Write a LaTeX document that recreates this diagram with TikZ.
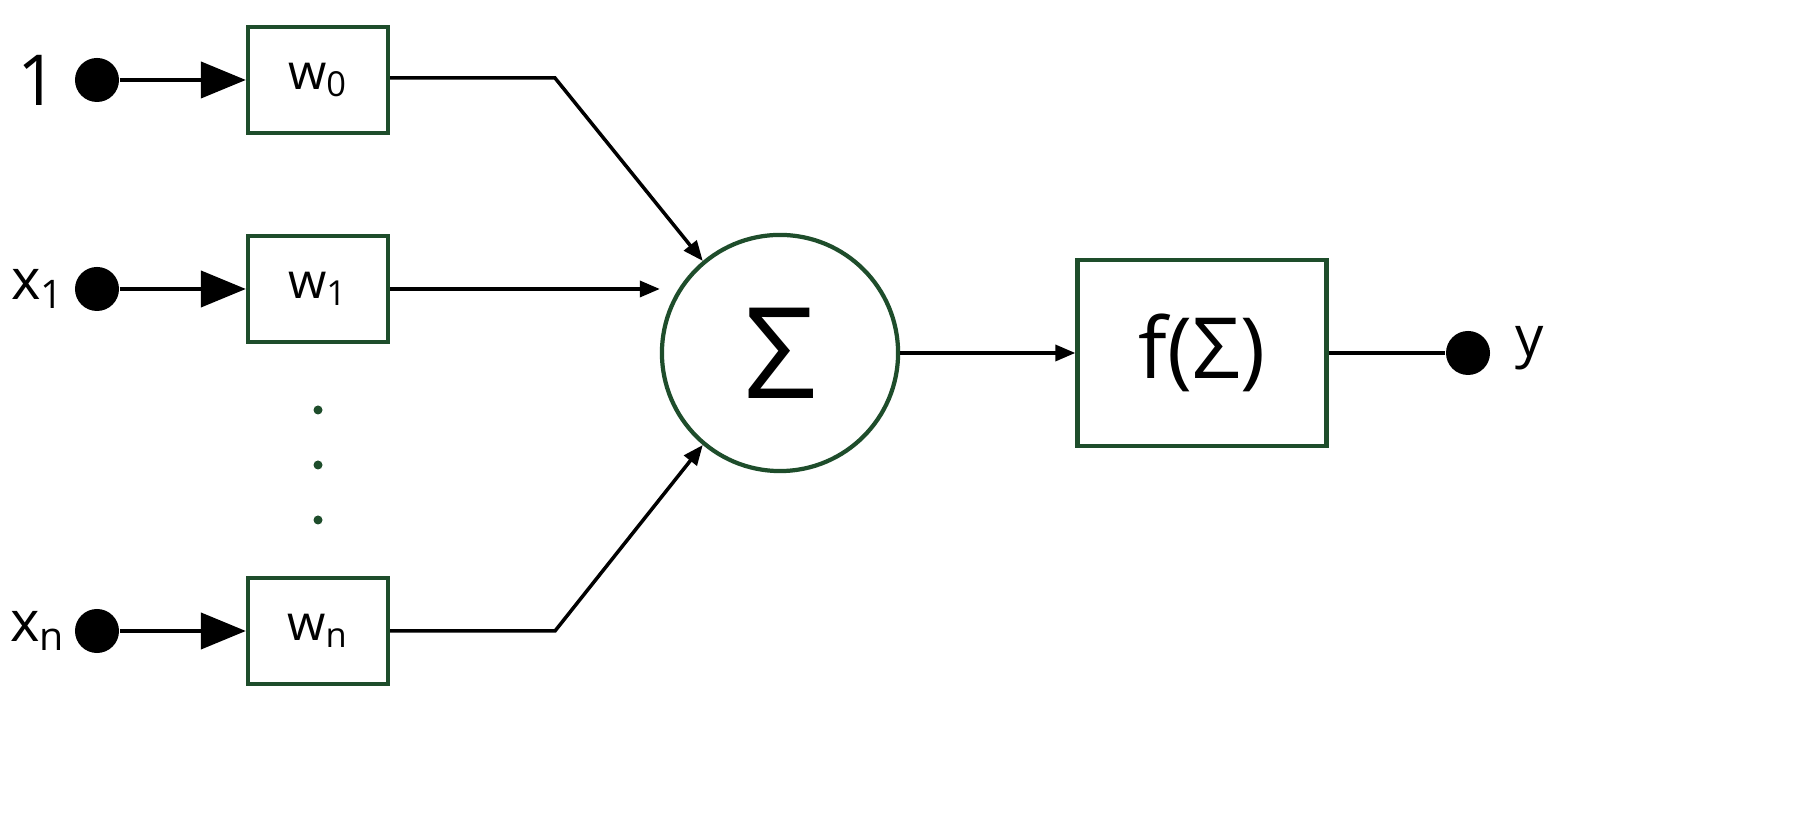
\documentclass[tikz,border=0pt]{standalone}
\usepackage{fontspec}
\setmainfont{Open Sans}
\usetikzlibrary{arrows.meta}
\definecolor{dg}{HTML}{1E4D2B}
\begin{document}
\begin{tikzpicture}[x=0.01cm,y=0.01cm,
  box/.style={draw=dg,line width=1.2pt,minimum width=1.4cm,minimum height=1.06cm,inner sep=0pt,font=\fontsize{14}{16}\selectfont},
  dot/.style={circle,fill=black,minimum size=0.44cm,inner sep=0pt},
  lab/.style={font=\fontsize{16}{18}\selectfont},
  big/.style={-{Triangle[length=0.45cm,width=0.36cm]},line width=1.2pt},
  sm/.style={-{Triangle[length=0.2cm,width=0.16cm]},line width=1pt}]
\path[use as bounding box,fill=white] (0,0) rectangle (1813,819);
\node[lab] (l0) at (38,739) {\fontsize{20}{22}\selectfont 1};
\node[lab] (l1) at (38,530) {x\textsubscript{1}};
\node[lab] (ln) at (38,188) {x\textsubscript{n}};
\node[dot] (d0) at (97,739) {};
\node[dot] (d1) at (97,530) {};
\node[dot] (dn) at (97,188) {};
\node[box] (w0) at (318,739) {w\textsubscript{0}};
\node[box] (w1) at (318,530) {w\textsubscript{1}};
\node[box] (wn) at (318,188) {w\textsubscript{n}};
\foreach \yy in {409,354,299} \fill[dg] (318,\yy) circle (0.045cm);
\node[circle,draw=dg,line width=1.2pt,minimum size=2.36cm,inner sep=0pt,font=\fontsize{36}{40}\selectfont] (s) at (780,466) {Σ};
\node[box,minimum width=2.49cm,minimum height=1.86cm,font=\fontsize{24}{28}\selectfont] (f) at (1202,466) {f(Σ)};
\node[dot] (dy) at (1468,466) {};
\node[lab] (ly) at (1530,471) {y};
\coordinate (c0) at (555,741);
\coordinate (cn) at (555,188);
\draw[big] (d0) -- (w0.west);
\draw[big] (d1) -- (w1.west);
\draw[big] (dn) -- (wn.west);
\draw[sm] (w0.east|-c0) -- (c0) -- (s.130);
\draw[sm] (w1.east) -- (s.west|-w1);
\draw[sm] (wn.east) -- (cn) -- (s.230);
\draw[sm] (s.east) -- (f.west);
\draw[line width=1.2pt] (f.east) -- (dy);
\end{tikzpicture}
\end{document}
